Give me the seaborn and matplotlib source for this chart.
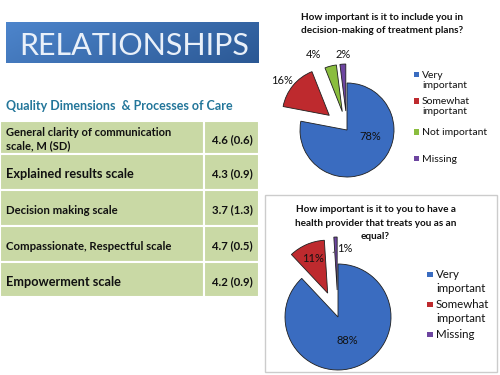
import numpy as np
import matplotlib
matplotlib.use("Agg")
import matplotlib.pyplot as plt
import matplotlib.patches as mpatches
from matplotlib.colors import to_rgb
import seaborn as sns

# ---------------- data ----------------
banner_text = "RELATIONSHIPS"
table_header = "Quality Dimensions  & Processes of Care"
table_labels = [
    "General clarity of communication\nscale, M (SD)",
    "Explained results scale",
    "Decision making scale",
    "Compassionate, Respectful scale",
    "Empowerment scale",
]
table_values = ["4.6 (0.6)", "4.3 (0.9)", "3.7 (1.3)", "4.7 (0.5)", "4.2 (0.9)"]

pie1_title = "How important is it to include you in\ndecision-making of treatment plans?"
pie1_categories = ["Very\nimportant", "Somewhat\nimportant", "Not important", "Missing"]
pie1_values = [78, 16, 4, 2]

pie2_title = "How important is it to you to have a\nhealth provider that treats you as an\nequal?"
pie2_categories = ["Very\nimportant", "Somewhat\nimportant", "Missing"]
pie2_values = [88, 11, 1]

# ---------------- style ----------------
sns.set_theme(style="white")
plt.rcParams["font.family"] = ["Lato", "DejaVu Sans"]

cat_colors = {
    "Very\nimportant": "#3a6cc0",
    "Somewhat\nimportant": "#be2a2e",
    "Not important": "#8abd3e",
    "Missing": "#6d45a0",
}
pal1 = sns.color_palette([cat_colors[c] for c in pie1_categories])
pal2 = sns.color_palette([cat_colors[c] for c in pie2_categories])

W, H = 500, 375
fig = plt.figure(figsize=(5, 3.75), dpi=100)
ax = fig.add_axes([0, 0, 1, 1])


def Y(y):
    return H - y


# ---------------- banner ----------------
gx, gy = np.meshgrid(np.linspace(0, 1, 200), np.linspace(0, 1, 40))
t = np.clip(0.75 * gx + 0.25 * gy, 0, 1)
c0 = np.array(to_rgb("#4d85cc"))
c1 = np.array(to_rgb("#2b5894"))
img = c0 + (c1 - c0) * t[..., None]
ax.imshow(img, extent=[6, 259, Y(63), Y(22)], aspect="auto", origin="upper", zorder=1)
ax.text(134, Y(55), banner_text, color="#e9f0f9", fontsize=22, fontweight="normal",
        ha="center", va="baseline", zorder=3)

# ---------------- table ----------------
ax.text(6, Y(110.5), table_header, color="#23769a", fontsize=9, fontweight="bold",
        ha="left", va="baseline")
row_edges = [121, 154, 190, 226, 262, 297]
label_sizes = [8, 9.2, 8.2, 8.2, 9.2]
cell_color = "#c9d9a5"
for i, (lab, val) in enumerate(zip(table_labels, table_values)):
    top, bot = row_edges[i], row_edges[i + 1]
    ax.add_patch(mpatches.Rectangle((0, Y(bot)), 204, bot - top, facecolor=cell_color,
                                    edgecolor="white", linewidth=1.5, zorder=1))
    ax.add_patch(mpatches.Rectangle((204, Y(bot)), 55, bot - top, facecolor=cell_color,
                                    edgecolor="white", linewidth=1.5, zorder=1))
    yc = (top + bot) / 2 + 2
    ax.text(6, Y(yc), lab, fontsize=label_sizes[i], fontweight="bold", color="#111111",
            ha="left", va="center", linespacing=1.25, zorder=2)
    ax.text(232, Y(yc), val, fontsize=8.2, fontweight="bold", color="#111111",
            ha="center", va="center", zorder=2)

# ---------------- pie 1 ----------------
ax.text(382, Y(12.5), pie1_title, fontsize=7.2, fontweight="bold", color="#111111",
        ha="center", va="top", linespacing=1.6)
ax.pie(pie1_values, colors=pal1, startangle=90, counterclock=False,
       center=(347, Y(130)), radius=47, explode=[0, 23, 19, 19], frame=True,
       wedgeprops=dict(edgecolor="#1e1e1e", linewidth=0.6))
pie1_lbl_pos = [(370, 137), (282, 80), (314, 55), (343, 54)]
for v, (px, py) in zip(pie1_values, pie1_lbl_pos):
    ax.text(px, Y(py), f"{v}%", fontsize=8, color="#111111", ha="center", va="center", zorder=5)
leg1_tops = [71, 97.3, 128.3, 155]
for cat, col, top in zip(pie1_categories, pal1, leg1_tops):
    ax.add_patch(mpatches.Rectangle((414, Y(top + 6.3)), 5.3, 5.3, facecolor=col,
                                    edgecolor="none", zorder=3))
    ax.text(422, Y(top), cat, fontsize=7.5, color="#111111", ha="left", va="top",
            linespacing=1.15)

# ---------------- pie 2 ----------------
ax.add_patch(mpatches.Rectangle((265, Y(372)), 232, 177, facecolor="white",
                                edgecolor="#cccccc", linewidth=1.0, zorder=0.5))
ax.text(375.5, Y(205.5), pie2_title, fontsize=7.2, fontweight="bold", color="#111111",
        ha="center", va="top", linespacing=1.6)
ax.pie(pie2_values, colors=pal2, startangle=90, counterclock=False,
       center=(338, Y(317)), radius=53, explode=[0, 26, 27], frame=True,
       wedgeprops=dict(edgecolor="#1e1e1e", linewidth=0.6))
pie2_lbl_pos = [(347.5, 340), (313, 258), (345, 248)]
for v, (px, py) in zip(pie2_values, pie2_lbl_pos):
    ax.text(px, Y(py), f"{v}%", fontsize=8, color="#111111", ha="center", va="center", zorder=5)
ax.plot([333, 336], [Y(252.7), Y(250.5)], color="#555555", linewidth=0.6)
leg2_tops = [269.3, 299.3, 329.3]
for cat, col, top in zip(pie2_categories, pal2, leg2_tops):
    ax.add_patch(mpatches.Rectangle((427, Y(top + 8)), 5.5, 5.5, facecolor=col,
                                    edgecolor="none", zorder=3))
    ax.text(436, Y(top), cat, fontsize=8.3, color="#111111", ha="left", va="top",
            linespacing=1.3)

ax.set_xlim(0, W)
ax.set_ylim(0, H)
ax.set_aspect("auto")
ax.axis("off")
fig.savefig("out.png", dpi=100)
